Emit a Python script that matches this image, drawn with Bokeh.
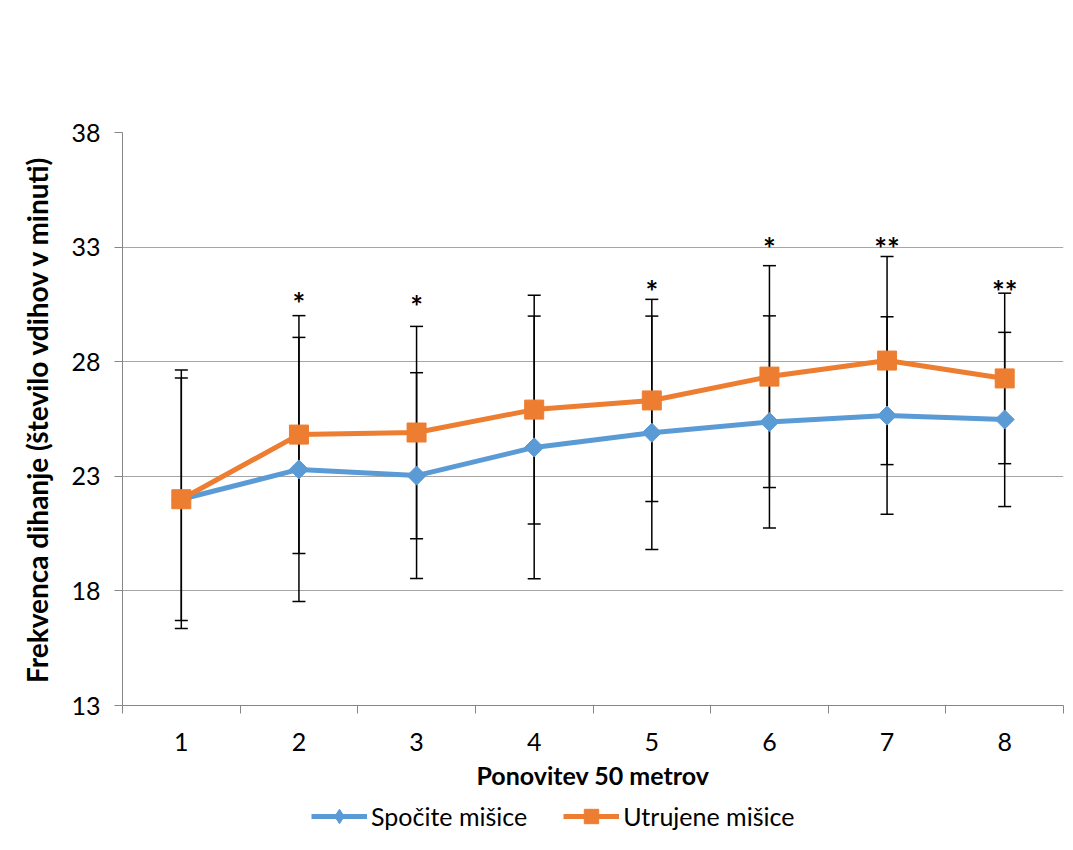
import numpy as np
from bokeh.plotting import figure
from bokeh.layouts import column
from bokeh.models import Range1d, FixedTicker, Legend, LegendItem
from bokeh.core.properties import value
from bokeh.embed import file_html
from bokeh.resources import INLINE

# ---- data ----
reps = [1, 2, 3, 4, 5, 6, 7, 8]
rested = [22.0, 23.3, 23.03, 24.26, 24.9, 25.37, 25.65, 25.48]
rested_sd = [5.64, 5.76, 4.49, 5.73, 5.09, 4.63, 4.31, 3.80]
fatigued = [22.0, 24.82, 24.91, 25.91, 26.31, 27.35, 28.05, 27.27]
fatigued_sd = [5.29, 5.19, 4.63, 4.99, 4.41, 4.84, 4.54, 3.72]
star_x = [2, 3, 5, 6, 7, 8]
star_y = [30.76, 30.67, 31.32, 33.2, 33.16, 31.32]
star_text = ["*", "*", "*", "*", "**", "**"]
y_ticks = [13, 18, 23, 28, 33, 38]
series_names = ["Spočite mišice", "Utrujene mišice"]
x_title = "Ponovitev 50 metrov"
y_title = "Frekvenca dihanje (število vdihov v minuti)"

BLUE = "#5B9BD5"
ORANGE = "#ED7D31"
FONT = "Lato"
W = 1070

p = figure(frame_width=941, frame_height=573, output_backend="svg", toolbar_location=None,
           x_range=Range1d(reps[0] - 0.5, reps[-1] + 0.5),
           y_range=Range1d(y_ticks[0], y_ticks[-1]),
           min_border_left=122, min_border_right=W - 122 - 941, min_border_top=132,
           min_border_bottom=92)
p.outline_line_color = None
p.background_fill_color = "white"

# grid
p.xgrid.grid_line_color = None
p.ygrid.ticker = FixedTicker(ticks=y_ticks)
p.ygrid.grid_line_color = "#a6a6a6"
p.ygrid.grid_line_width = 1

# y axis
p.yaxis.ticker = FixedTicker(ticks=y_ticks)
p.yaxis.axis_line_color = "#868686"
p.yaxis.major_tick_line_color = "#868686"
p.yaxis.major_tick_out = 8
p.yaxis.major_tick_in = 0
p.yaxis.minor_tick_line_color = None
p.yaxis.major_label_standoff = 14
p.yaxis.major_label_text_font = FONT
p.yaxis.major_label_text_font_size = "25px"
p.yaxis.major_label_text_color = "#000000"
p.yaxis.axis_label = y_title
p.yaxis.axis_label_text_font = FONT
p.yaxis.axis_label_text_font_style = "bold"
p.yaxis.axis_label_text_font_size = "28px"
p.yaxis.axis_label_text_color = "#000000"
p.yaxis.axis_label_standoff = 14

# x axis
minor = [r - 0.5 for r in reps] + [reps[-1] + 0.5]
p.xaxis.ticker = FixedTicker(ticks=reps, minor_ticks=minor)
p.xaxis.axis_line_color = "#868686"
p.xaxis.major_tick_line_color = None
p.xaxis.minor_tick_line_color = "#868686"
p.xaxis.minor_tick_out = 8
p.xaxis.minor_tick_in = 0
p.xaxis.major_label_standoff = 19
p.xaxis.major_label_text_font = FONT
p.xaxis.major_label_text_font_size = "25px"
p.xaxis.major_label_text_color = "#000000"
p.xaxis.axis_label = x_title
p.xaxis.axis_label_text_font = FONT
p.xaxis.axis_label_text_font_style = "bold"
p.xaxis.axis_label_text_font_size = "25px"
p.xaxis.axis_label_text_color = "#000000"
p.xaxis.axis_label_standoff = 6

# error bars
for mean, sd in ((rested, rested_sd), (fatigued, fatigued_sd)):
    lo = [m - s for m, s in zip(mean, sd)]
    hi = [m + s for m, s in zip(mean, sd)]
    p.segment(x0=reps, y0=lo, x1=reps, y1=hi, line_color="black", line_width=1.5)
    p.scatter(x=reps + reps, y=lo + hi, marker="dash", size=13,
              line_color="black", line_width=1.5)

# series
p.line(reps, rested, line_color=BLUE, line_width=5)
p.scatter(reps, rested, marker="square", angle=np.pi / 4, size=13.5,
          fill_color=BLUE, line_color=BLUE)
p.line(reps, fatigued, line_color=ORANGE, line_width=5)
p.scatter(reps, fatigued, marker="square", size=19,
          fill_color=ORANGE, line_color=ORANGE)

# significance stars
p.text(x=star_x, y=star_y, text=star_text, text_font=value(FONT),
       text_font_style="bold", text_font_size="30px", text_align="center",
       text_baseline="middle", y_offset=5, text_color="black")

# ---- legend strip below the chart (series drawn out of view, legend only) ----
leg = figure(width=W, height=38, output_backend="svg", toolbar_location=None,
             x_range=Range1d(0, 1), y_range=Range1d(0, 1),
             x_axis_location=None, y_axis_location=None, min_border=0)
leg.grid.visible = False
leg.outline_line_color = None
lb = leg.line(reps, rested, line_color=BLUE, line_width=5)
lbm = leg.scatter(reps, rested, marker="diamond", fill_color=BLUE, line_color=BLUE)
lo_ = leg.line(reps, fatigued, line_color=ORANGE, line_width=5)
lom = leg.scatter(reps, fatigued, marker="square", fill_color=ORANGE, line_color=ORANGE)
legend = Legend(items=[LegendItem(label=series_names[0], renderers=[lb, lbm]),
                       LegendItem(label=series_names[1], renderers=[lo_, lom])],
                orientation="horizontal", location=(189, 1),
                label_text_font=FONT, label_text_font_size="25px",
                label_text_color="#000000",
                glyph_width=56, glyph_height=36, spacing=36, label_standoff=4,
                padding=0, margin=0, border_line_color=None,
                background_fill_alpha=0)
leg.add_layout(legend)

open("out.html", "w").write(file_html(column(p, leg), INLINE))
